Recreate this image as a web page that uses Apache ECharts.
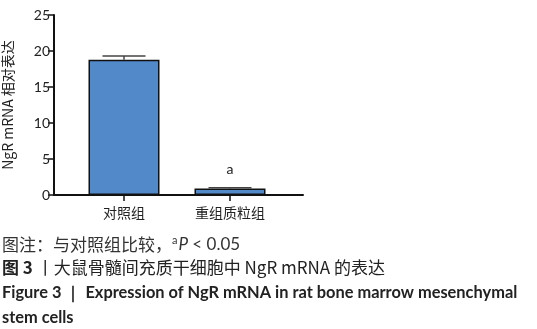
<!DOCTYPE html>
<html>
<head>
<meta charset="utf-8">
<script src="https://cdn.jsdelivr.net/npm/echarts@6/dist/echarts.min.js"></script>
<style>
  html, body { margin: 0; padding: 0; background: #fff; }
  #chart { width: 537px; height: 329px; }
</style>
</head>
<body>
<div id="chart"></div>
<script>
// groups on the x axis
var categories = ['对照组', '重组质粒组']
// mean relative expression and SD (upper whisker only)
var means = [18.8, 0.9]
var sds = [0.5, 0.1]
// significance marks over the bars
var marks = ['', 'a']
// y axis ticks
var yMin = 0
var yMax = 25
var yStep = 5

var cjk = '"Noto Sans CJK SC", "Noto Sans", sans-serif'
var latin = 'Lato, "Noto Sans", sans-serif'
var barColor = '#5289c8'

var chart = echarts.init(document.getElementById('chart'))

var barData = means.map(function(v, i) {
  return {
    value: v,
    label: {
      show: marks[i] !== '',
      formatter: marks[i]
    }
  }
})
var errData = means.map(function(v, i) {
  return [i, v, v + sds[i]]
})

chart.setOption({
  animation: false,
  grid: [
    { left: 52, top: 15, width: 251, height: 180 },
    { left: 71, top: 15, width: 212, height: 180 }
  ],
  xAxis: [
    {
      gridIndex: 0,
      type: 'value',
      min: 0,
      max: 1,
      axisLine: { show: true, lineStyle: { color: '#111', width: 2 } },
      axisTick: { show: false },
      axisLabel: { show: false },
      splitLine: { show: false }
    },
    {
      gridIndex: 1,
      type: 'category',
      data: categories,
      axisLine: { show: false },
      axisTick: { show: true, alignWithLabel: true, length: 6, lineStyle: { color: '#111', width: 1.5 } },
      axisLabel: { margin: 11, fontSize: 14, color: '#222', fontFamily: cjk },
      splitLine: { show: false }
    }
  ],
  yAxis: [
    {
      gridIndex: 0,
      type: 'value',
      min: yMin,
      max: yMax,
      interval: yStep,
      name: 'NgR mRNA 相对表达',
      nameLocation: 'middle',
      nameRotate: 90,
      nameGap: 39,
      nameTextStyle: { fontSize: 14, color: '#222', fontFamily: cjk },
      axisLine: { show: true, lineStyle: { color: '#111', width: 2 } },
      axisTick: { show: true, length: 6, lineStyle: { color: '#111', width: 1.5 } },
      axisLabel: { margin: 4, fontSize: 14, color: '#222', fontFamily: latin },
      splitLine: { show: false }
    },
    {
      gridIndex: 1,
      type: 'value',
      min: yMin,
      max: yMax,
      show: false
    }
  ],
  series: [
    {
      type: 'bar',
      xAxisIndex: 1,
      yAxisIndex: 1,
      barWidth: 71,
      data: barData,
      itemStyle: { color: barColor, borderColor: '#111', borderWidth: 1.5 },
      label: {
        position: 'top',
        distance: 12,
        fontSize: 14,
        color: '#222',
        fontFamily: latin
      },
      z: 2
    },
    {
      type: 'custom',
      xAxisIndex: 1,
      yAxisIndex: 1,
      data: errData,
      z: 3,
      renderItem: function(params, api) {
        var base = api.coord([api.value(0), api.value(1)])
        var top = api.coord([api.value(0), api.value(2)])
        var half = 21.5
        var style = { stroke: '#444', lineWidth: 1.5 }
        return {
          type: 'group',
          children: [
            { type: 'line', shape: { x1: base[0], y1: base[1], x2: top[0], y2: top[1] }, style: style },
            { type: 'line', shape: { x1: top[0] - half, y1: top[1], x2: top[0] + half, y2: top[1] }, style: style }
          ]
        }
      }
    }
  ],
  graphic: [
    {
      type: 'text',
      left: 2,
      top: 235,
      style: {
        text: '图注：与对照组比较，{sup|a}{it|P}{n| < 0.05}',
        font: '17px ' + cjk,
        fill: '#333',
        rich: {
          sup: { fontSize: 11, verticalAlign: 'top', padding: [0, 1, 8, 0], fontFamily: latin, fill: '#333' },
          it: { fontSize: 17, fontStyle: 'italic', fontFamily: latin, fill: '#333' },
          n: { fontSize: 17, fontFamily: latin, fill: '#333' }
        }
      }
    },
    {
      type: 'text',
      left: 2,
      top: 259,
      style: {
        text: '{b|图 3} 丨大鼠骨髓间充质干细胞中 NgR mRNA 的表达',
        font: '17px ' + cjk,
        fill: '#222',
        rich: {
          b: { fontWeight: 'bold', fontSize: 17, fontFamily: cjk, fill: '#222' }
        }
      }
    },
    {
      type: 'text',
      left: 2,
      top: 285,
      style: {
        text: 'Figure 3 ｜ Expression of NgR mRNA in rat bone marrow mesenchymal',
        font: 'bold 16.4px ' + latin,
        fill: '#222'
      }
    },
    {
      type: 'text',
      left: 2,
      top: 310,
      style: {
        text: 'stem cells',
        font: 'bold 16.4px ' + latin,
        fill: '#222'
      }
    }
  ]
})
</script>
</body>
</html>
